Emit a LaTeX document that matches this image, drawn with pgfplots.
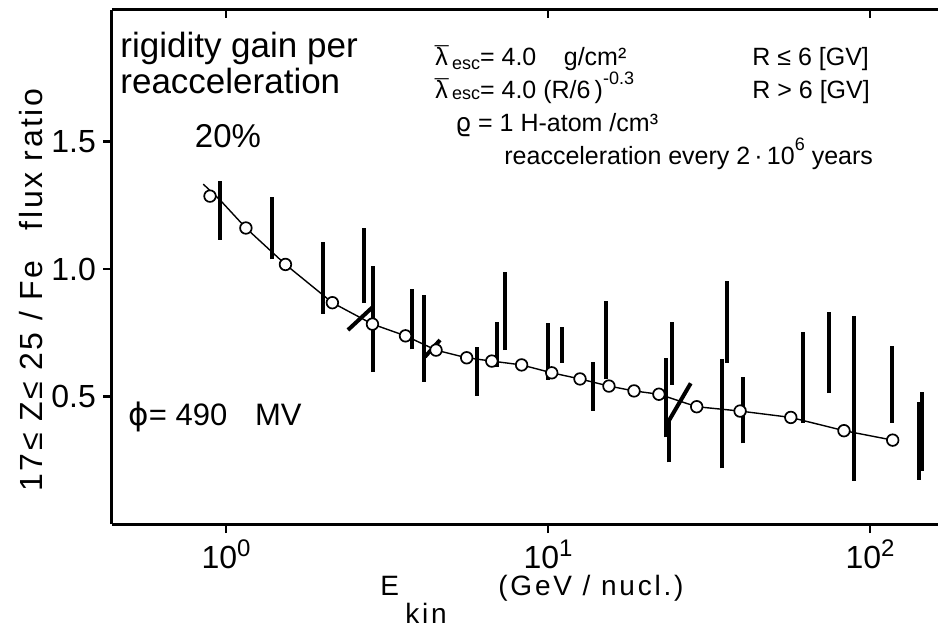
\documentclass[border=0pt]{standalone}
\usepackage{fontspec}
\setmainfont{Liberation Sans}
\newfontfamily\dejavu{DejaVu Sans}
\newfontfamily\ylabfont{Liberation Sans}[LetterSpace=8]
\newfontfamily\xlabfont{Liberation Sans}[LetterSpace=10]
\usepackage{graphicx}
\usepackage{pgfplots}
\pgfplotsset{compat=1.18}
\newcommand\fs[1]{\fontsize{#1}{#1}\selectfont}
\newcommand\lbar{\ooalign{λ\cr\hidewidth\raisebox{0.02em}{¯}\hidewidth\cr}}
\pgfplotsset{
  every non boxed x axis/.append style={x axis line style=-},
  every non boxed y axis/.append style={y axis line style=-},
  myaxis/.style={
  at={(56pt,52.5pt)}, anchor=south west,
  width=413pt, height=257pt, scale only axis,
  xmin=0.4426, xmax=162.6, ymin=0, ymax=2.016,
  xtick={1,10,100}, xminorticks=false,
  axis line style={line width=1.5pt,-},
  major tick style={line width=1.2pt,black},
  clip=false,
  }
}
\begin{document}
\begin{tikzpicture}
\useasboundingbox (0,0) rectangle (469pt,314.5pt);
\begin{axis}[xmode=log, myaxis,
  axis x line*=top, axis y line=none,
  xticklabels={}, tick align=inside, major tick length=4pt]
\end{axis}
\begin{axis}[xmode=log, myaxis,
  axis x line*=bottom, axis y line*=left,
  tick align=outside, major tick length=4.5pt,
  ytick={0.5,1,1.5}, yticklabels={0.5,1.0,1.5},
  xticklabels={10\raisebox{6pt}{\fs{12}0},10\raisebox{6pt}{\fs{12}1},10\raisebox{6pt}{\fs{12}2}},
  xticklabel style={font=\fs{16}},
  yticklabel style={font=\fs{16}},
  unbounded coords=jump,
]
% model curve
\addplot[black, line width=0.7pt] coordinates {
(0.85,1.333) (0.963,1.268) (1.153,1.161) (1.53,1.018) (2.14,0.868)
(2.85,0.784) (3.61,0.738) (4.49,0.682) (5.59,0.652) (6.69,0.639)
(8.28,0.624) (10.27,0.593) (12.57,0.569) (15.46,0.541) (18.5,0.522)
(22.1,0.509) (28.96,0.460) (39.5,0.443) (56.75,0.418) (83.0,0.366)
(117.6,0.329)};
% model points
\addplot[only marks, mark=*, mark size=2.9pt,
  mark options={fill=white, draw=black, line width=0.85pt}] coordinates {
(0.892,1.286) (1.153,1.161) (1.53,1.018) (2.14,0.868) (2.85,0.784)
(3.61,0.738) (4.49,0.682) (5.59,0.652) (6.69,0.639) (8.28,0.624)
(10.27,0.593) (12.57,0.569) (15.46,0.541) (18.5,0.522) (22.1,0.509)
(28.96,0.460) (39.5,0.443) (56.75,0.418) (83.0,0.366) (117.6,0.329)};
% measured ranges
\addplot[black, line width=2pt, line cap=butt] coordinates {
(0.96,1.114)(0.96,1.346)(0.96,nan)
(1.39,1.038)(1.39,1.284)(1.39,nan)
(2.0,0.824)(2.0,1.107)(2.0,nan)
(2.68,0.866)(2.68,1.16)(2.68,nan)
(2.86,0.596)(2.86,1.012)(2.86,nan)
(3.79,0.685)(3.79,0.920)(3.79,nan)
(4.13,0.558)(4.13,0.898)(4.13,nan)
(6.0,0.503)(6.0,0.695)(6.0,nan)
(6.94,0.617)(6.94,0.793)(6.94,nan)
(7.34,0.682)(7.34,0.989)(7.34,nan)
(9.98,0.565)(9.98,0.787)(9.98,nan)
(11.03,0.633)(11.03,0.771)(11.03,nan)
(13.83,0.444)(13.83,0.636)(13.83,nan)
(15.1,0.567)(15.1,0.876)(15.1,nan)
(23.3,0.340)(23.3,0.650)(23.3,nan)
(24.2,0.546)(24.2,0.794)(24.2,nan)
(23.8,0.242)(23.8,0.408)(23.8,nan)
(34.6,0.218)(34.6,0.646)(34.6,nan)
(36.06,0.633)(36.06,0.954)(36.06,nan)
(40.2,0.316)(40.2,0.578)(40.2,nan)
(61.8,0.397)(61.8,0.754)(61.8,nan)
(74.6,0.513)(74.6,0.830)(74.6,nan)
(89.4,0.170)(89.4,0.816)(89.4,nan)
(116.7,0.397)(116.7,0.698)(116.7,nan)
(142,0.173)(142,0.480)(142,nan)
(144.7,0.209)(144.7,0.519)};
% instrument boundary marks
\addplot[black, line width=2pt] coordinates {
(2.392,0.761)(2.861,0.852)(2.861,nan)
(4.15,0.656)(4.62,0.7216)(4.62,nan)
(23.63,0.401)(27.75,0.552)};
\end{axis}
% texts
\begin{scope}[every node/.style={inner sep=0pt}]
\node[anchor=base west] at (60pt,286pt) {\fs{17.5}rigidity gain per};
\node[anchor=base west] at (60pt,268pt) {\fs{17.5}reacceleration};
\node[anchor=base] at (114pt,241pt) {\fs{16.5}20\%};
\node[anchor=base west] at (64pt,102pt) {\fs{15.5}{\dejavu ϕ}= 490\hspace{0.9em}MV};
\node[anchor=base west] at (217.5pt,282pt) {\fs{12.5}\lbar\,\raisebox{-0.35ex}{\fs{9}esc}= 4.0\hspace{1.1em}g/cm²};
\node[anchor=base west] at (217.5pt,265.5pt) {\fs{12.5}\lbar\,\raisebox{-0.1ex}{\fs{9}esc}= 4.0 (R/6\,)\raisebox{1.0ex}{\fs{9}-0.3}};
\node[anchor=base west] at (227.5pt,249pt) {\fs{12.5}{\dejavu ϱ} = 1 H-atom /cm³};
\node[anchor=base west] at (252pt,232.5pt) {\fs{12.5}reacceleration every 2\,·\,10\raisebox{1.0ex}{\fs{9}6} years};
\node[anchor=base west] at (376pt,282pt) {\fs{12.5}R ≤ 6 [GV]};
\node[anchor=base west] at (376pt,265.5pt) {\fs{12.5}R > 6 [GV]};
\node[anchor=base west] at (190pt,17pt) {\fs{14}\xlabfont E};
\node[anchor=base west] at (202.5pt,3pt) {\fs{14}\xlabfont kin};
\node[anchor=base west] at (249pt,17pt) {\fs{14}\xlabfont (GeV / nucl.)};
\node[anchor=base, rotate=90] at (21pt,169.5pt) {\fs{16}\ylabfont 17≤ Z≤ 25 / Fe\hspace{0.6em} flux ratio};
\end{scope}
\end{tikzpicture}
\end{document}
